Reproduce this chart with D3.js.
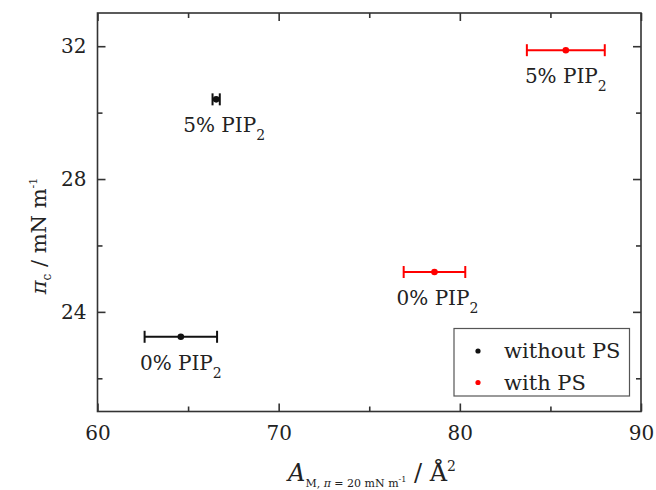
<!DOCTYPE html>
<html>
<head>
<meta charset="utf-8">
<script src="https://cdn.jsdelivr.net/npm/d3@7"></script>
<style>
  body { margin: 0; background: #fff; }
  svg { display: block; font-family: "DejaVu Serif", serif; }
</style>
</head>
<body>
<svg id="chart" width="656" height="490"></svg>
<script>
// Critical surface pressure vs. mean molecular area, with/without PS
const groups = ["without PS", "with PS"];
const groupColors = ["#111111", "#ff0000"];
const pointGroup = [0, 0, 1, 1];
const pipLabels = ["0% PIP", "5% PIP", "0% PIP", "5% PIP"];
const areaMean = [64.6, 66.55, 78.6, 85.85];
const areaErr = [2.0, 0.2, 1.7, 2.15];
const piC = [23.25, 30.4, 25.2, 31.88];

const xMajor = [60, 70, 80, 90];
const xMinor = [65, 75, 85];
const yMajor = [24, 28, 32];
const yMinor = [22, 26, 30];

// small horizontal nudges for the point labels (px)
const labelNudge = [0, 8, 3, 0];

const svg = d3.select("#chart");
const plotL = 97.5, plotR = 641, plotT = 13, plotB = 411.5;

const x = d3.scaleLinear().domain([60, 90]).range([plotL, plotR]);
const y = d3.scaleLinear().domain([21, 33]).range([plotB, plotT]);

const axisColor = "#333";

// frame
svg.append("rect")
  .attr("x", plotL).attr("y", plotT)
  .attr("width", plotR - plotL).attr("height", plotB - plotT)
  .attr("fill", "none").attr("stroke", axisColor).attr("stroke-width", 1.6);

function styleAxis(g) {
  g.select(".domain").remove();
  g.selectAll(".tick line").attr("stroke", axisColor).attr("stroke-width", 1.6);
}

// bottom axis (major with labels, ticks inward)
svg.append("g").attr("transform", `translate(0,${plotB})`)
  .call(d3.axisBottom(x).tickValues(xMajor).tickSize(-8).tickPadding(14).tickFormat(d3.format("d")))
  .call(styleAxis)
  .call(g => g.selectAll("text").attr("font-size", 20).attr("fill", "#222")
    .attr("font-family", "DejaVu Serif"));
svg.append("g").attr("transform", `translate(0,${plotB})`)
  .call(d3.axisBottom(x).tickValues(xMinor).tickSize(-5).tickFormat(""))
  .call(styleAxis);
// top mirror
svg.append("g").attr("transform", `translate(0,${plotT})`)
  .call(d3.axisTop(x).tickValues(xMajor).tickSize(-8).tickFormat(""))
  .call(styleAxis);
svg.append("g").attr("transform", `translate(0,${plotT})`)
  .call(d3.axisTop(x).tickValues(xMinor).tickSize(-5).tickFormat(""))
  .call(styleAxis);

// left axis
svg.append("g").attr("transform", `translate(${plotL},0)`)
  .call(d3.axisLeft(y).tickValues(yMajor).tickSize(-8).tickPadding(11).tickFormat(d3.format("d")))
  .call(styleAxis)
  .call(g => g.selectAll("text").attr("font-size", 20).attr("fill", "#222")
    .attr("font-family", "DejaVu Serif"));
svg.append("g").attr("transform", `translate(${plotL},0)`)
  .call(d3.axisLeft(y).tickValues(yMinor).tickSize(-5).tickFormat(""))
  .call(styleAxis);
// right mirror
svg.append("g").attr("transform", `translate(${plotR},0)`)
  .call(d3.axisRight(y).tickValues(yMajor).tickSize(-8).tickFormat(""))
  .call(styleAxis);
svg.append("g").attr("transform", `translate(${plotR},0)`)
  .call(d3.axisRight(y).tickValues(yMinor).tickSize(-5).tickFormat(""))
  .call(styleAxis);

// data points with horizontal error bars
const pts = d3.range(areaMean.length);
const capH = 6;
const gPts = svg.append("g");
pts.forEach(i => {
  const c = groupColors[pointGroup[i]];
  const cy = y(piC[i]);
  const x0 = x(areaMean[i] - areaErr[i]), x1 = x(areaMean[i] + areaErr[i]);
  const g = gPts.append("g").attr("stroke", c).attr("stroke-width", 2);
  g.append("line").attr("x1", x0).attr("x2", x1).attr("y1", cy).attr("y2", cy);
  g.append("line").attr("x1", x0).attr("x2", x0).attr("y1", cy - capH).attr("y2", cy + capH);
  g.append("line").attr("x1", x1).attr("x2", x1).attr("y1", cy - capH).attr("y2", cy + capH);
  gPts.append("circle").attr("cx", x(areaMean[i])).attr("cy", cy).attr("r", 3.3).attr("fill", c);

  const t = gPts.append("text")
    .attr("x", x(areaMean[i]) + labelNudge[i])
    .attr("y", cy + 33)
    .attr("text-anchor", "middle")
    .attr("font-size", 20).attr("fill", "#222");
  t.append("tspan").text(pipLabels[i]);
  t.append("tspan").attr("dy", 8).attr("font-size", 14).text("2");
});

// legend
const lg = svg.append("g");
lg.append("rect").attr("x", 454).attr("y", 328.5).attr("width", 175.5).attr("height", 67.5)
  .attr("fill", "#fff").attr("stroke", "#555").attr("stroke-width", 1.2);
groups.forEach((name, i) => {
  const cy = 351 + i * 31.5;
  lg.append("circle").attr("cx", 478).attr("cy", cy).attr("r", 2.6).attr("fill", groupColors[i]);
  lg.append("text").attr("x", 504).attr("y", cy + 7).attr("font-size", 21).attr("fill", "#222").text(name);
});

// x axis title
const xt = svg.append("text").attr("x", 372).attr("y", 481)
  .attr("text-anchor", "middle").attr("fill", "#222").attr("font-size", 24);
xt.append("tspan").attr("font-style", "italic").text("A");
xt.append("tspan").attr("font-size", 11).attr("dy", 6).text("M, ");
xt.append("tspan").attr("font-size", 11).attr("font-style", "italic").text("π");
xt.append("tspan").attr("font-size", 11).text(" = 20 mN m");
xt.append("tspan").attr("font-size", 8).attr("dy", -5).text("-1");
xt.append("tspan").attr("font-size", 24).attr("dy", -1).text(" / Å");
xt.append("tspan").attr("font-size", 14).attr("dy", -10).text("2");

// y axis title
const yt = svg.append("text").attr("transform", "translate(46,236) rotate(-90)")
  .attr("text-anchor", "middle").attr("fill", "#222").attr("font-size", 21);
yt.append("tspan").attr("font-style", "italic").text("π");
yt.append("tspan").attr("font-size", 12).attr("dy", 5).text("c");
yt.append("tspan").attr("dy", -5).text(" / mN m");
yt.append("tspan").attr("font-size", 11).attr("dy", -9).text("-1");
</script>
</body>
</html>
